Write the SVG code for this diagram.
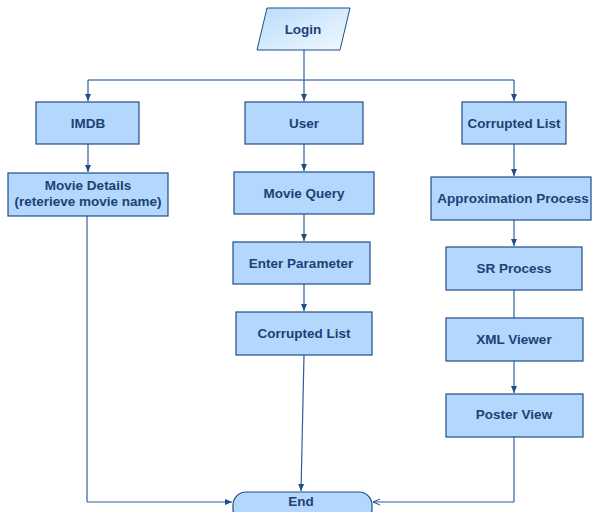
<svg xmlns="http://www.w3.org/2000/svg" width="592" height="512" viewBox="0 0 592 512">
<defs>
<linearGradient id="lg" x1="0" y1="0" x2="1" y2="1">
<stop offset="0" stop-color="#b9dcfc"/>
<stop offset="1" stop-color="#f2f9ff"/>
</linearGradient>
<marker id="ah" markerWidth="8" markerHeight="8" refX="7" refY="4" orient="auto" markerUnits="userSpaceOnUse">
<path d="M0,1 L7,4 L0,7 Z" fill="#1f4e86"/>
</marker>
<marker id="ao" markerWidth="8" markerHeight="8" refX="7" refY="4" orient="auto" markerUnits="userSpaceOnUse">
<path d="M0,1 L7,4 L0,7" fill="none" stroke="#1f4e86" stroke-width="1"/>
</marker>
</defs>
<style>
.box{fill:#b3d7fd;stroke:#1f4e86;stroke-width:1.2}
.t{font-family:"Liberation Sans",Arial,sans-serif;font-weight:bold;font-size:13.5px;fill:#1c4273;text-anchor:middle}
.c{fill:none;stroke:#5a82b5;stroke-width:1.5}
.c2{fill:none;stroke:#2f5e9a;stroke-width:1.2}
</style>
<g id="connectors">
<path class="c" d="M304,50 V80"/>
<path class="c" d="M88,80 H514"/>
<path class="c2" d="M88,80 V101" marker-end="url(#ah)"/>
<path class="c2" d="M304,80 V101" marker-end="url(#ah)"/>
<path class="c2" d="M514,80 V101" marker-end="url(#ah)"/>
<path class="c2" d="M88,144 V172" marker-end="url(#ah)"/>
<path class="c2" d="M304,144 V171" marker-end="url(#ah)"/>
<path class="c2" d="M304,214 V241" marker-end="url(#ah)"/>
<path class="c2" d="M304,284 V311" marker-end="url(#ah)"/>
<path class="c2" d="M304,355 L301,491" marker-end="url(#ah)"/>
<path class="c" d="M514,144 V176" marker-end="url(#ah)"/>
<path class="c" d="M514,220 V246" marker-end="url(#ah)"/>
<path class="c" d="M514,290 V318"/>
<path class="c" d="M514,361 V393" marker-end="url(#ah)"/>
<path class="c" d="M87,216 V502"/>
<path class="c2" d="M87,502 H232" marker-end="url(#ah)"/>
<path class="c" d="M514,437 V502"/>
<path class="c2" d="M514,502 H373" marker-end="url(#ao)"/>
</g>
<g id="login">
<polygon points="267,8 350,8 340,50 257,50" fill="url(#lg)" stroke="#1f4e86" stroke-width="1"/>
<text class="t" x="303" y="34">Login</text>
</g>
<g id="imdb">
<rect class="box" x="36" y="102" width="103" height="42"/>
<text class="t" x="88" y="128">IMDB</text>
</g>
<g id="movie-details">
<rect class="box" x="8" y="173" width="160" height="43"/>
<text class="t" x="88" y="190">Movie Details</text>
<text class="t" x="88" y="206">(reterieve movie name)</text>
</g>
<g id="user">
<rect class="box" x="245" y="102" width="118" height="42"/>
<text class="t" x="304" y="128">User</text>
</g>
<g id="movie-query">
<rect class="box" x="234" y="172" width="140" height="42"/>
<text class="t" x="304" y="198">Movie Query</text>
</g>
<g id="enter-parameter">
<rect class="box" x="233" y="242" width="137" height="42"/>
<text class="t" x="301" y="268">Enter Parameter</text>
</g>
<g id="corrupted-list-mid">
<rect class="box" x="236" y="312" width="136" height="43"/>
<text class="t" x="304" y="338">Corrupted List</text>
</g>
<g id="corrupted-list-right">
<rect class="box" x="462" y="102" width="104" height="42"/>
<text class="t" x="514" y="128">Corrupted List</text>
</g>
<g id="approximation">
<rect class="box" x="431" y="177" width="160" height="43"/>
<text class="t" x="513" y="203">Approximation Process</text>
</g>
<g id="sr-process">
<rect class="box" x="446" y="247" width="136" height="43"/>
<text class="t" x="514" y="273">SR Process</text>
</g>
<g id="xml-viewer">
<rect class="box" x="446" y="318" width="137" height="43"/>
<text class="t" x="514" y="344">XML Viewer</text>
</g>
<g id="poster-view">
<rect class="box" x="446" y="394" width="137" height="43"/>
<text class="t" x="514" y="419">Poster View</text>
</g>
<g id="end">
<rect class="box" x="233" y="492" width="139" height="30" rx="13" ry="13"/>
<text class="t" x="301" y="506">End</text>
</g>
</svg>
